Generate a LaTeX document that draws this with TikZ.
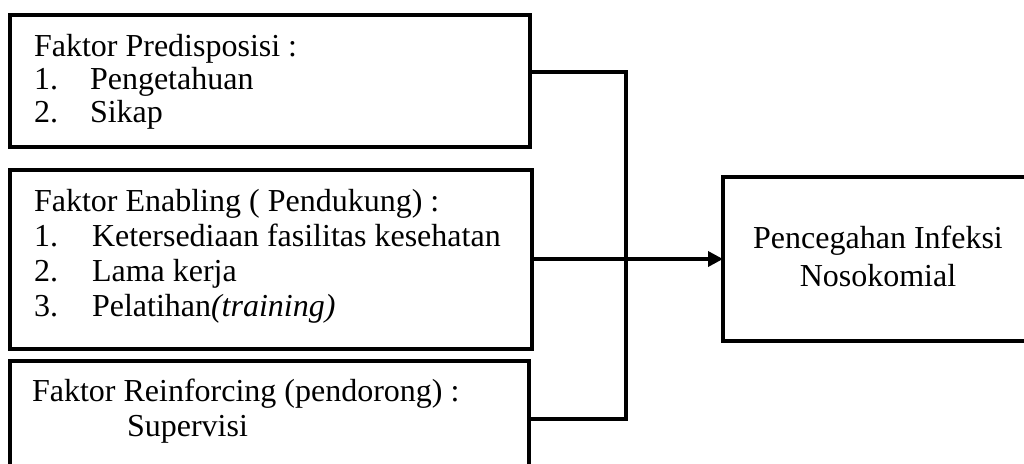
\documentclass[tikz,border=0pt]{standalone}
\usepackage{fontspec}
\setmainfont{Liberation Serif}
\usetikzlibrary{arrows.meta}
\begin{document}
\begin{tikzpicture}[x=1pt,y=-1pt,
  box/.style={draw=black,line width=3.5pt,inner sep=0pt,outer sep=0pt,anchor=north west,rectangle},
  txt/.style={inner sep=0pt,outer sep=0pt,anchor=base west,font=\fontsize{32}{34}\selectfont},
  ctxt/.style={inner sep=0pt,outer sep=0pt,anchor=base,font=\fontsize{32}{34}\selectfont},
  conn/.style={draw=black,line width=3.5pt},
  arr/.style={conn,-{Triangle[length=15pt,width=15pt]}}]
\useasboundingbox (0,0) rectangle (1024,463);
\begin{scope}
\clip (0,0) rectangle (1024,463);
% boxes
\node[box,minimum width=520pt,minimum height=132pt] (b1) at (10,15) {};
\node[box,minimum width=522pt,minimum height=179pt] (b2) at (10,170) {};
\node[box,minimum width=519pt,minimum height=140pt] (b3) at (10,361) {};
\node[box,minimum width=317pt,minimum height=164pt] (b4) at (723,177) {};
% box 1 text
\node[txt] (t1a) at (34,56) {Faktor Predisposisi :};
\node[txt] (t1b) at (34,89) {1.};
\node[txt] (t1c) at (90,89) {Pengetahuan};
\node[txt] (t1d) at (34,122) {2.};
\node[txt] (t1e) at (90,122) {Sikap};
% box 2 text
\node[txt] (t2a) at (34,211) {Faktor Enabling ( Pendukung) :};
\node[txt] (t2b) at (34,246) {1.};
\node[txt] (t2c) at (92,246) {Ketersediaan fasilitas kesehatan};
\node[txt] (t2d) at (34,281) {2.};
\node[txt] (t2e) at (92,281) {Lama kerja};
\node[txt] (t2f) at (34,316) {3.};
\node[txt] (t2g) at (92,316) {Pelatihan\textit{(training)}};
% box 3 text
\node[txt] (t3a) at (32,401) {Faktor Reinforcing (pendorong) :};
\node[txt] (t3b) at (127,436) {Supervisi};
% box 4 text
\node[ctxt] (t4a) at (878,248) {Pencegahan Infeksi};
\node[ctxt] (t4b) at (878,286) {Nosokomial};
% connectors
\coordinate (j1) at (626,72);
\coordinate (j2) at (626,419);
\draw[conn] (b1.east |- j1) -- (j1) -- (j2) -- (b3.east |- j2);
\draw[arr] (b2.east |- b4.west) -- (b4.west);
\end{scope}
\end{tikzpicture}
\end{document}
